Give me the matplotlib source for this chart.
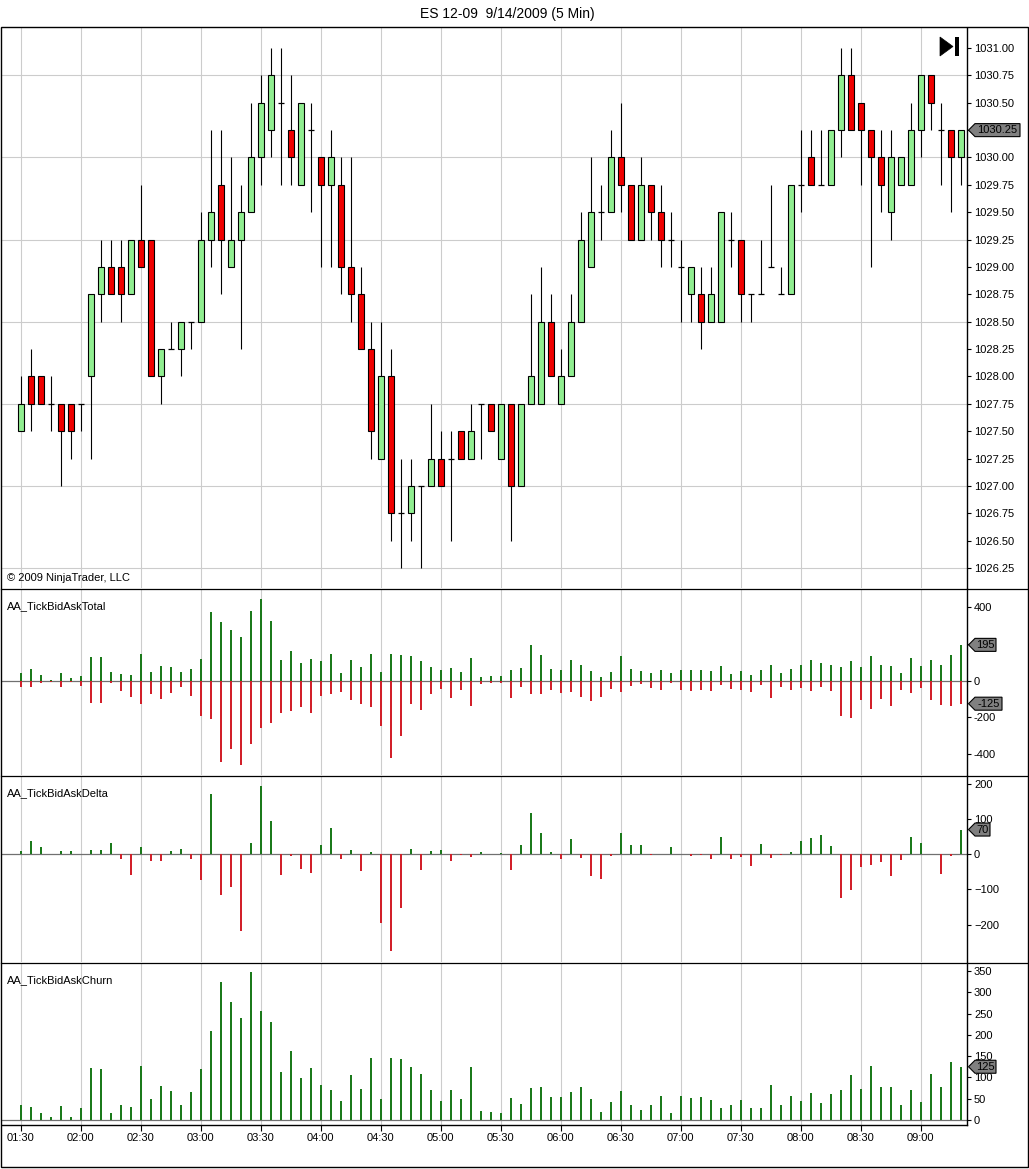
import numpy as np
import matplotlib
matplotlib.use('Agg')
import matplotlib.pyplot as plt
from matplotlib.patches import Polygon, Rectangle
from matplotlib.lines import Line2D
from matplotlib.transforms import ScaledTranslation

plt.rcParams['font.family'] = ['Liberation Sans', 'DejaVu Sans']

# 5 min bars, 01:30 .. 09:20
opens = [1027.50, 1028.00, 1028.00, 1027.75, 1027.75, 1027.75, 1027.75, 1028.00, 1028.75, 1029.00,
         1029.00, 1028.75, 1029.25, 1029.25, 1028.00, 1028.25, 1028.25, 1028.50, 1028.50, 1029.25,
         1029.75, 1029.00, 1029.25, 1029.50, 1030.00, 1030.25, 1030.50, 1030.25, 1029.75, 1030.25,
         1030.00, 1029.75, 1029.75, 1029.00, 1028.75, 1028.25, 1027.25, 1028.00, 1026.75, 1026.75,
         1027.00, 1027.00, 1027.25, 1027.25, 1027.50, 1027.25, 1027.75, 1027.75, 1027.25, 1027.75,
         1027.00, 1027.75, 1027.75, 1028.50, 1027.75, 1028.00, 1028.50, 1029.00, 1029.50, 1029.50,
         1030.00, 1029.75, 1029.25, 1029.75, 1029.50, 1029.25, 1029.00, 1028.75, 1028.75, 1028.50,
         1028.50, 1029.25, 1029.25, 1028.75, 1028.75, 1029.00, 1028.75, 1028.75, 1029.75, 1030.00,
         1029.75, 1029.75, 1030.25, 1030.75, 1030.50, 1030.25, 1030.00, 1029.50, 1029.75, 1029.75,
         1030.25, 1030.75, 1030.25, 1030.25, 1030.00]
highs = [1028.00, 1028.25, 1028.00, 1028.00, 1027.75, 1027.75, 1027.75, 1028.75, 1029.25, 1029.25,
         1029.25, 1029.25, 1029.75, 1029.25, 1028.25, 1028.50, 1028.50, 1028.50, 1029.50, 1030.25,
         1030.25, 1030.00, 1029.75, 1030.50, 1030.75, 1031.00, 1031.00, 1030.75, 1030.50, 1030.50,
         1030.00, 1030.25, 1030.00, 1030.00, 1029.00, 1028.50, 1028.50, 1028.25, 1027.25, 1027.25,
         1027.00, 1027.75, 1027.50, 1027.50, 1027.50, 1027.75, 1027.75, 1027.75, 1027.75, 1027.75,
         1027.75, 1028.75, 1029.00, 1028.75, 1028.25, 1028.75, 1029.50, 1030.00, 1029.75, 1030.25,
         1030.50, 1029.75, 1030.00, 1029.75, 1029.75, 1029.50, 1029.25, 1029.00, 1029.00, 1029.00,
         1029.50, 1029.50, 1029.25, 1028.75, 1029.25, 1029.75, 1029.00, 1029.75, 1030.25, 1030.25,
         1030.25, 1030.25, 1031.00, 1031.00, 1030.50, 1030.25, 1030.25, 1030.25, 1030.00, 1030.50,
         1030.75, 1030.75, 1030.50, 1030.25, 1030.25]
lows = [1027.50, 1027.50, 1027.75, 1027.50, 1027.00, 1027.25, 1027.50, 1027.25, 1028.50, 1028.75,
        1028.50, 1028.75, 1029.00, 1028.00, 1027.75, 1028.25, 1028.00, 1028.25, 1028.50, 1029.00,
        1028.75, 1029.00, 1028.25, 1029.50, 1029.75, 1030.00, 1029.75, 1029.75, 1029.75, 1029.50,
        1029.00, 1029.00, 1028.75, 1028.50, 1028.25, 1027.25, 1027.25, 1026.50, 1026.25, 1026.50,
        1026.25, 1027.00, 1027.00, 1026.50, 1027.25, 1027.25, 1027.25, 1027.50, 1027.25, 1026.50,
        1027.00, 1027.75, 1027.75, 1028.00, 1027.75, 1028.00, 1028.50, 1029.00, 1029.25, 1029.50,
        1029.50, 1029.25, 1029.25, 1029.25, 1029.00, 1029.00, 1028.50, 1028.50, 1028.25, 1028.50,
        1028.50, 1029.00, 1028.50, 1028.50, 1028.75, 1029.00, 1028.75, 1028.75, 1029.50, 1029.75,
        1029.75, 1029.75, 1030.00, 1030.25, 1029.75, 1029.00, 1029.50, 1029.25, 1029.75, 1029.75,
        1030.00, 1030.25, 1029.75, 1029.50, 1029.75]
closes = [1027.75, 1027.75, 1027.75, 1027.75, 1027.50, 1027.50, 1027.75, 1028.75, 1029.00, 1028.75,
          1028.75, 1029.25, 1029.00, 1028.00, 1028.25, 1028.25, 1028.50, 1028.50, 1029.25, 1029.50,
          1029.25, 1029.25, 1029.50, 1030.00, 1030.50, 1030.75, 1030.50, 1030.00, 1030.50, 1030.25,
          1029.75, 1030.00, 1029.00, 1028.75, 1028.25, 1027.50, 1028.00, 1026.75, 1026.75, 1027.00,
          1027.00, 1027.25, 1027.00, 1027.25, 1027.25, 1027.50, 1027.75, 1027.50, 1027.75, 1027.00,
          1027.75, 1028.00, 1028.50, 1028.00, 1028.00, 1028.50, 1029.25, 1029.50, 1029.50, 1030.00,
          1029.75, 1029.25, 1029.75, 1029.50, 1029.25, 1029.25, 1029.00, 1029.00, 1028.50, 1028.75,
          1029.50, 1029.25, 1028.75, 1028.75, 1028.75, 1029.00, 1028.75, 1029.75, 1029.75, 1029.75,
          1029.75, 1030.25, 1030.75, 1030.25, 1030.25, 1030.00, 1029.75, 1030.00, 1030.00, 1030.25,
          1030.75, 1030.50, 1030.25, 1030.00, 1030.25]

# AA_TickBidAskTotal (ask side positive, bid side negative)
total_up = [44, 64, 31, 5, 44, 15, 27, 129, 129, 49, 36, 31, 145, 49, 80, 75, 49, 64, 118, 375,
            320, 276, 236, 380, 445, 325, 113, 162, 96, 118, 107, 145, 42, 113, 75, 145, 49, 145, 140, 135,
            107, 75, 58, 69, 47, 124, 22, 24, 24, 58, 69, 195, 141, 64, 58, 113, 86, 53, 20, 47,
            135, 64, 53, 42, 58, 42, 58, 58, 58, 53, 80, 37, 53, 31, 58, 86, 42, 64, 86, 113,
            97, 86, 75, 108, 75, 135, 86, 80, 42, 124, 80, 113, 86, 141, 195]
total_dn = [-33, -33, -15, -7, -33, -7, -27, -120, -120, -15, -55, -87, -125, -71, -98, -65, -33, -82, -191, -207,
            -442, -371, -456, -344, -255, -229, -175, -164, -142, -175, -82, -71, -60, -104, -125, -142, -245, -420, -300, -125,
            -158, -71, -44, -93, -49, -136, -18, -11, -11, -93, -33, -71, -71, -49, -66, -60, -88, -110, -88, -44,
            -60, -27, -16, -38, -49, -11, -49, -55, -49, -55, -22, -44, -49, -60, -22, -93, -33, -49, -38, -55,
            -33, -55, -192, -203, -104, -153, -99, -137, -49, -66, -38, -104, -131, -137, -125]

# AA_TickBidAskDelta
delta = [9, 38, 21, 0, 8, 8, 0, 12, 12, 32, -15, -58, 21, -18, -18, 9, 15, -15, -72, 170,
         -117, -94, -218, 32, 193, 94, -60, -5, -41, -52, 26, 75, -15, 12, -49, 7, -196, -275, -154, 15,
         -46, 9, 12, -18, -2, -9, 5, 0, 4, -45, 27, 117, 61, 7, -14, 44, -11, -62, -70, -6,
         61, 27, 27, -3, 0, 21, 0, -6, -1, -14, 50, -14, -8, -34, 30, -11, -3, 7, 38, 47,
         55, 24, -123, -101, -36, -31, -22, -62, -17, 50, 33, 0, -56, -6, 70]

# AA_TickBidAskChurn
churn = [35, 31, 16, 7, 33, 7, 28, 122, 120, 16, 35, 31, 127, 49, 80, 68, 35, 66, 120, 209,
         324, 277, 240, 348, 256, 230, 113, 162, 99, 122, 82, 70, 45, 106, 73, 146, 49, 146, 143, 125,
         108, 70, 45, 70, 49, 125, 21, 19, 16, 52, 38, 75, 78, 54, 54, 66, 78, 49, 19, 42,
         68, 35, 23, 35, 56, 16, 56, 52, 54, 47, 28, 35, 47, 28, 28, 82, 35, 56, 45, 63,
         40, 61, 70, 106, 73, 127, 78, 78, 35, 70, 42, 108, 78, 136, 125]

time_labels = ['01:30', '02:00', '02:30', '03:00', '03:30', '04:00', '04:30', '05:00',
               '05:30', '06:00', '06:30', '07:00', '07:30', '08:00', '08:30', '09:00']

W, H = 1029, 1169
fig = plt.figure(figsize=(W / 100, H / 100), dpi=100)
fig.patch.set_facecolor('white')

GRID = '#cccccc'
UP_BODY = '#90ee90'
DN_BODY = '#f00000'
BAR_UP = '#1b7a1b'
BAR_DN = '#d2202a'


def panel(top, bottom):
    return fig.add_axes([2 / W, 1 - bottom / H, 965 / W, (bottom - top) / H])


x = np.arange(len(opens))
xt = np.arange(0, len(opens), 6)
xlim = (-1.87, 94.63)

ax_p = panel(28, 588)
ax_t = panel(589, 775)
ax_d = panel(776, 962)
ax_c = panel(963, 1125)

for ax in (ax_p, ax_t, ax_d, ax_c):
    ax.set_xlim(*xlim)
    ax.set_xticks(xt)
    ax.grid(axis='x', color=GRID, lw=0.8, zorder=0)
    ax.set_axisbelow(True)
    ax.yaxis.tick_right()
    ax.tick_params(axis='y', direction='out', length=3, width=0.8, pad=2, labelsize=8)
    ax.tick_params(axis='x', bottom=False, labelbottom=False)
    for s in ('top', 'left', 'bottom'):
        ax.spines[s].set_visible(False)
    ax.spines['right'].set_linewidth(1)

# price panel
o = np.array(opens); h = np.array(highs); l = np.array(lows); c = np.array(closes)
ax_p.set_ylim(1026.067, 1031.183)
for lvl in np.arange(1026.25, 1031.0, 0.75):
    ax_p.axhline(lvl, color=GRID, lw=0.8, zorder=0)
ax_p.vlines(x, l, h, color='black', lw=0.8, zorder=2)
up = c > o
dn = c < o
flat = c == o
ax_p.bar(x[up], (c - o)[up], bottom=o[up], width=0.6, color=UP_BODY, edgecolor='black', lw=0.8, zorder=3)
ax_p.bar(x[dn], (o - c)[dn], bottom=c[dn], width=0.6, color=DN_BODY, edgecolor='black', lw=0.8, zorder=3)
ax_p.hlines(o[flat], x[flat] - 0.3, x[flat] + 0.3, color='black', lw=0.9, zorder=3)
pt = np.arange(1026.25, 1031.01, 0.25)
ax_p.set_yticks(pt)
# the last-price marker sits on top of its own tick label
ax_p.set_yticklabels(['' if abs(v - closes[-1]) < 1e-6 else '%.2f' % v for v in pt])

# total
ax_t.set_ylim(-513, 499)
ax_t.axhline(0, color='#707070', lw=0.9, zorder=1)
ax_t.bar(x, total_up, width=0.22, color=BAR_UP, zorder=2)
ax_t.bar(x, total_dn, width=0.22, color=BAR_DN, zorder=2)
ax_t.set_yticks([-400, -200, 0, 200, 400])
ax_t.set_yticklabels(['-400', '-200', '0', '', '400'])

# delta
ax_d.set_ylim(-306, 222)
ax_d.axhline(0, color='#707070', lw=0.9, zorder=1)
dv = np.array(delta)
ax_d.bar(x, dv, width=0.22, color=np.where(dv >= 0, BAR_UP, BAR_DN), zorder=2)
ax_d.set_yticks([-200, -100, 0, 100, 200])

# churn
ax_c.set_ylim(-12, 369)
ax_c.axhline(0, color='#707070', lw=0.9, zorder=1)
ax_c.bar(x, churn, width=0.22, color=BAR_UP, zorder=2)
ax_c.set_yticks(np.arange(0, 351, 50))
ax_c.spines['bottom'].set_visible(True)
ax_c.spines['bottom'].set_linewidth(1)
ax_c.tick_params(axis='x', bottom=True, labelbottom=True, direction='out', length=4,
                 width=0.8, pad=2, labelsize=8)
ax_c.set_xticklabels(time_labels)


def last_marker(ax, val, text):
    tr = ScaledTranslation(1, val, ax.get_yaxis_transform())
    w = 11 + 6 * len(text)
    verts = [(1.5, 0), (8, 6.5), (w, 6.5), (w, -6.5), (8, -6.5)]
    fig.add_artist(Polygon(verts, closed=True, transform=tr, facecolor='#808080',
                           edgecolor='black', lw=0.8, zorder=5))
    fig.text((8 + w) / 2, 0, text, transform=tr, ha='center', va='center',
             fontsize=8, color='black', zorder=6)


last_marker(ax_p, closes[-1], '%.2f' % closes[-1])
last_marker(ax_t, total_up[-1], str(total_up[-1]))
last_marker(ax_t, total_dn[-1], str(total_dn[-1]))
last_marker(ax_d, delta[-1], str(delta[-1]))
last_marker(ax_c, churn[-1], str(churn[-1]))

# frame and panel separators
fig.add_artist(Rectangle((1 / W, 1 - 1167 / H), 1027 / W, 1140 / H, transform=fig.transFigure,
                         fill=False, ec='black', lw=1))
for yy in (588.5, 775.5, 962.5):
    fig.add_artist(Line2D([1 / W, 1028 / W], [1 - yy / H] * 2, transform=fig.transFigure,
                          color='black', lw=0.9))

# scroll-to-end icon
fig.add_artist(Polygon([(940 / W, 1 - 37 / H), (940 / W, 1 - 56 / H), (953 / W, 1 - 46.5 / H)],
                       closed=True, transform=fig.transFigure, fc='black', ec='black', lw=0.5))
fig.add_artist(Rectangle((955 / W, 1 - 56 / H), 4 / W, 19 / H, transform=fig.transFigure,
                         fc='black', ec='none'))

fig.text(507 / W, 1 - 14 / H, 'ES 12-09  9/14/2009 (5 Min)', ha='center', va='center', fontsize=10)
fig.text(7 / W, 1 - 578 / H, '\u00a9 2009 NinjaTrader, LLC', va='center', fontsize=8)
fig.text(7 / W, 1 - 606 / H, 'AA_TickBidAskTotal', va='center', fontsize=8)
fig.text(7 / W, 1 - 793 / H, 'AA_TickBidAskDelta', va='center', fontsize=8)
fig.text(7 / W, 1 - 980 / H, 'AA_TickBidAskChurn', va='center', fontsize=8)

fig.savefig('out.png', dpi=100)
